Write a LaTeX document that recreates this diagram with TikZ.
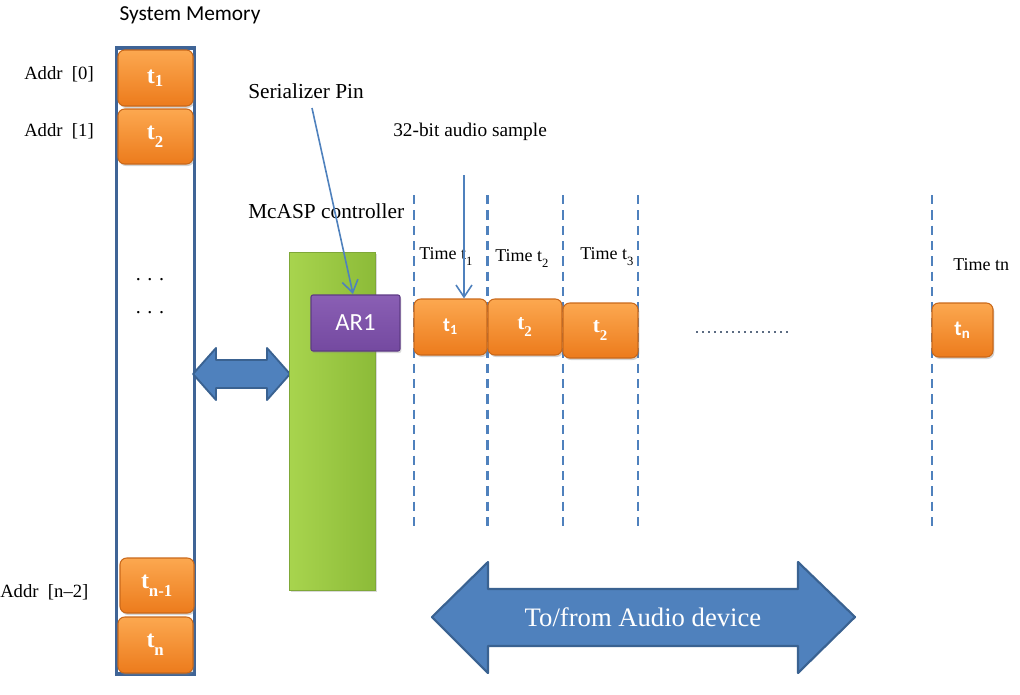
\documentclass[tikz,border=0pt]{standalone}
\usepackage{fontspec}
\setmainfont{Liberation Serif}
\newfontfamily\calib{Carlito}
\usetikzlibrary{shadows,arrows.meta}
\definecolor{orL}{HTML}{FCA850}
\definecolor{orD}{HTML}{EC7B1C}
\definecolor{orB}{HTML}{C9681A}
\definecolor{grL}{HTML}{A8D44E}
\definecolor{grD}{HTML}{8CBB38}
\definecolor{grB}{HTML}{7FA838}
\definecolor{puL}{HTML}{8A5FB4}
\definecolor{puD}{HTML}{7449A0}
\definecolor{puB}{HTML}{5E3B85}
\definecolor{bluF}{HTML}{4F81BD}
\definecolor{bluB}{HTML}{3A6291}
\definecolor{memB}{HTML}{3F6496}
\definecolor{dotc}{HTML}{5B6B82}
\def\pxu{0.75pt}
\newcommand{\lowsub}[1]{\raisebox{-0.45ex}{\textsubscript{#1}}}
\begin{document}
\begin{tikzpicture}[x=0.75pt,y=-0.75pt,
  cell/.style={rounded corners=5pt, draw=orB, line width=0.8pt, top color=orL, bottom color=orD,
    text=white, font=\fontsize{18}{20}\selectfont\bfseries, inner sep=0pt,
    drop shadow={opacity=0.35, shadow xshift=1pt, shadow yshift=-1.5pt}},
  lbl/.style={font=\fontsize{14}{16}\selectfont, inner sep=0pt, anchor=base west},
  timelbl/.style={font=\fontsize{13.5}{15}\selectfont, inner sep=0pt, anchor=base west},
  vdash/.style={draw=bluF, line width=1.6pt, dash pattern=on 7pt off 4.5pt},
  pin/.style={draw=bluF, line width=1.2pt, -{Straight Barb[length=9pt,width=12pt,line width=1.2pt]}},
  bigarrow/.style={fill=bluF, draw=bluB, line width=1.6pt, line join=round},
]
\useasboundingbox (0,0) rectangle (1020,694);

% System memory column
\node[font=\calib\fontsize{16}{18}\selectfont, inner sep=0pt] (smlab) at (190,15) {System Memory};
\node[draw=memB, line width=2.4pt, minimum width=78*\pxu, minimum height=626*\pxu, inner sep=0pt] (mem) at (155.5,361) {};

\node[cell, minimum width=75*\pxu, minimum height=56*\pxu] (m1) at (155.5,78) {t\textsubscript{1}};
\node[cell, minimum width=75*\pxu, minimum height=55*\pxu] (m2) at (155.5,136.5) {t\lowsub{2}};
\node[cell, minimum width=74*\pxu, minimum height=55*\pxu] (mn1) at (157,585.5) {t\lowsub{n-1}};
\node[cell, minimum width=75*\pxu, minimum height=56*\pxu] (mn) at (155.5,645) {t\lowsub{n}};

\node[lbl] (a0) at (24,79) {Addr~~[0]};
\node[lbl] (a1) at (24,136) {Addr~~[1]};
\node[lbl] (an2) at (0,597) {Addr~~[n–2]};

\node[font=\fontsize{15}{17}\selectfont, inner sep=0pt] (d1) at (150,280) {.\,\,.\,\,.};
\node[font=\fontsize{15}{17}\selectfont, inner sep=0pt] (d2) at (150,313) {.\,\,.\,\,.};

% memory <-> controller arrow
\draw[bigarrow, line width=1.4pt] (193,374) -- (216,348) -- (216,360) -- (267,360) -- (267,348) -- (290,374)
  -- (267,400) -- (267,388) -- (216,388) -- (216,400) -- cycle;

% McASP controller
\node[font=\fontsize{16}{18}\selectfont, inner sep=0pt, anchor=base west] (mclab) at (248,218) {McASP controller};
\node[left color=grL, right color=grD, draw=grB, line width=0.6pt, minimum width=86*\pxu, minimum height=338*\pxu,
  inner sep=0pt, drop shadow={opacity=0.3, shadow xshift=1.5pt, shadow yshift=-1.5pt}] (ctrl) at (332,421) {};
\node[top color=puL, bottom color=puD, draw=puB, line width=0.8pt, rounded corners=1.5pt,
  minimum width=89*\pxu, minimum height=56*\pxu, inner sep=0pt, text=white,
  font=\calib\fontsize{18.5}{20}\selectfont, drop shadow={opacity=0.3, shadow xshift=1pt, shadow yshift=-1.5pt}] (ar) at (355.5,323) {AR1};

% Serializer pin
\node[font=\fontsize{16}{18}\selectfont, inner sep=0pt, anchor=base west] (serlab) at (248,98) {Serializer Pin};
\coordinate (sp) at (312,108);
\draw[pin] (sp) -- (353,294);

% 32-bit audio sample
\node[font=\fontsize{14.5}{16}\selectfont, inner sep=0pt, anchor=base west] (s32lab) at (393,136) {32-bit audio sample};
\coordinate (s32) at (464,175);

% dashed time separators
\foreach \xx/\nm in {414/v1, 487.5/v2, 563/v3, 638/v4, 932/v5} {
  \coordinate (\nm t) at (\xx,195);
  \coordinate (\nm b) at (\xx,526);
  \draw[vdash] (\nm t) -- (\nm b);
}

\node[timelbl] (time1) at (419,259) {Time t\lowsub{1}};
\node[timelbl] (time2) at (495,261) {Time t\lowsub{2}};
\node[timelbl] (time3) at (580,259) {Time t\lowsub{3}};
\node[timelbl] (timen) at (953,270) {Time tn};

% timeline cells
\node[cell, minimum width=73*\pxu, minimum height=56*\pxu, font=\calib\fontsize{15}{17}\selectfont\bfseries] (tl1) at (450.5,327) {t\textsubscript{1}};
\node[cell, minimum width=74*\pxu, minimum height=56*\pxu, font=\fontsize{16}{18}\selectfont\bfseries] (tl2) at (525,327) {t\lowsub{2}};
\node[cell, minimum width=75*\pxu, minimum height=55*\pxu, font=\fontsize{16}{18}\selectfont\bfseries] (tl3) at (600.5,330.5) {t\lowsub{2}};
\node[cell, minimum width=61*\pxu, minimum height=54*\pxu, font=\calib\fontsize{16}{18}\selectfont\bfseries] (tln) at (962.5,330) {t\textsubscript{n}};

\draw[pin] (s32) -- (s32 |- tl1.north);

% dotted continuation
\coordinate (dotA) at (696,332);
\coordinate (dotB) at (791,332);
\draw[draw=dotc, line width=1.5pt, dash pattern=on 1.2pt off 3.3pt] (dotA) -- (dotB);

% To/from audio device
\draw[bigarrow] (432,617) -- (488,562) -- (488,589) -- (798,589) -- (798,562) -- (855,617)
  -- (798,673) -- (798,646) -- (488,646) -- (488,673) -- cycle;
\node[text=white, font=\fontsize{20}{22}\selectfont, inner sep=0pt] (audio) at (643,617) {To/from Audio device};

\end{tikzpicture}
\end{document}
